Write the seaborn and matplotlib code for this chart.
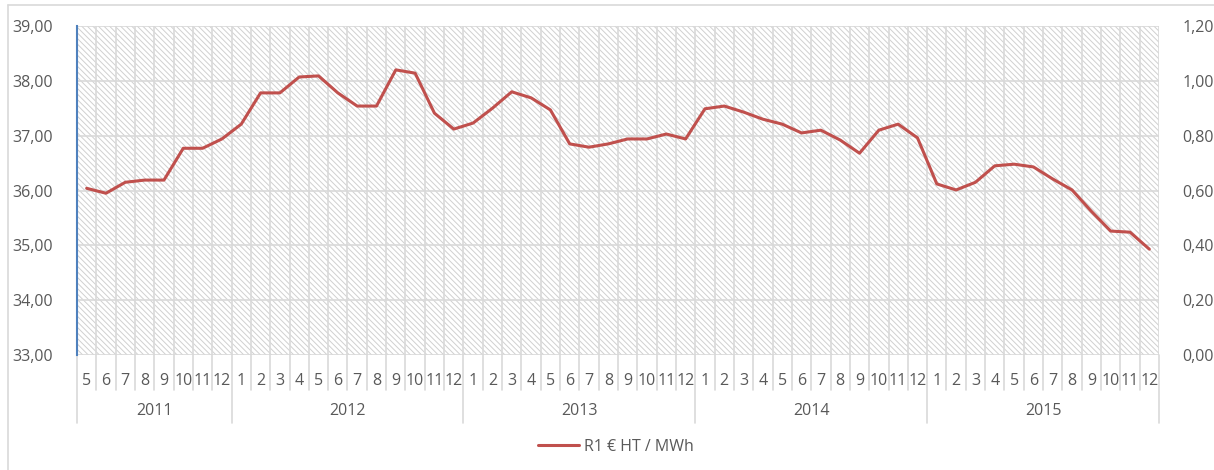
import matplotlib
matplotlib.use("Agg")
import matplotlib.pyplot as plt
import matplotlib.transforms as mtransforms
from matplotlib.lines import Line2D
from matplotlib.patches import Rectangle
import seaborn as sns
import pandas as pd
import numpy as np

# data: R1 € HT / MWh, monthly 2011-5 .. 2015-12
years = [2011, 2012, 2013, 2014, 2015]
months_per_year = [list(range(5, 13)), list(range(1, 13)), list(range(1, 13)),
                   list(range(1, 13)), list(range(1, 13))]
values = [36.04, 35.95, 36.15, 36.19, 36.19, 36.77, 36.77, 36.94,
          37.21, 37.78, 37.78, 38.07, 38.09, 37.78, 37.54, 37.54, 38.20, 38.14, 37.41, 37.12,
          37.23, 37.50, 37.80, 37.69, 37.47, 36.85, 36.79, 36.85, 36.94, 36.94, 37.03, 36.94,
          37.49, 37.54, 37.43, 37.30, 37.21, 37.05, 37.10, 36.92, 36.68, 37.10, 37.21, 36.96,
          36.12, 36.01, 36.15, 36.45, 36.48, 36.43, 36.21, 36.01, 35.62, 35.26, 35.24, 34.93]
series_name = "R1 € HT / MWh"
left_ticks = [33, 34, 35, 36, 37, 38, 39]
right_ticks = [0.0, 0.2, 0.4, 0.6, 0.8, 1.0, 1.2]

month_labels = [str(m) for ms in months_per_year for m in ms]
df = pd.DataFrame({"pos": np.arange(len(values)), "val": values})

sns.set_style("white")
plt.rcParams["font.family"] = ["Open Sans", "DejaVu Sans"]
plt.rcParams["hatch.linewidth"] = 0.7
txt = "#595959"
grid = "#d9d9d9"
red = "#c0504d"

fig = plt.figure(figsize=(12.14, 4.70), dpi=100)
ax = fig.add_axes([77 / 1214, 1 - 355 / 470, (1159 - 77) / 1214, (355 - 26) / 470])

n = len(values)
ax.set_xlim(-0.5, n - 0.5)
ax.set_ylim(33, 39)

# hatched plot background
ax.add_patch(Rectangle((-0.5, 33), n, 6, facecolor="white", edgecolor="#d0d0d0", lw=0,
                       hatch="\\" * 6, zorder=0))

for y in left_ticks:
    ax.axhline(y, color=grid, lw=1.2, zorder=1)
for b in np.arange(-0.5, n, 1.0):
    ax.axvline(b, color=grid, lw=1.2, zorder=1)

sns.lineplot(data=df, x="pos", y="val", ax=ax, color=red, lw=2.2, zorder=3,
             legend=False)

for s in ["top", "right", "bottom"]:
    ax.spines[s].set_visible(False)
ax.spines["left"].set_color("#4f81bd")
ax.spines["left"].set_linewidth(1.5)
ax.spines["left"].set_zorder(4)

ax.set_yticks(left_ticks)
ax.set_yticklabels([f"{v:.2f}".replace(".", ",") for v in left_ticks])
ax.tick_params(axis="y", length=0, pad=17, labelsize=11.5, labelcolor=txt)
ax.set_xticks(df["pos"])
ax.set_xticklabels(month_labels)
ax.tick_params(axis="x", length=0, pad=13, labelsize=11.5, labelcolor=txt)
ax.set_xlabel("")
ax.set_ylabel("")

# secondary axis
ax2 = ax.twinx()
ax2.set_ylim(0, 1.2)
ax2.set_yticks(right_ticks)
ax2.set_yticklabels([f"{v:.2f}".replace(".", ",") for v in right_ticks])
ax2.tick_params(axis="y", length=0, pad=17, labelsize=11.5, labelcolor=txt)
for s in ax2.spines.values():
    s.set_visible(False)

# multi-level category axis separators
px = 1 / ((355 - 26))
trans = mtransforms.blended_transform_factory(ax.transData, ax.transAxes)
year_bounds = [-0.5]
for ms in months_per_year:
    year_bounds.append(year_bounds[-1] + len(ms))
for b in np.arange(-0.5, n, 1.0):
    if b in year_bounds:
        ax.plot([b, b], [0, -68 * px], color=grid, lw=1.2, transform=trans, clip_on=False)
    else:
        ax.plot([b, b], [0, -35 * px], color=grid, lw=1.2, transform=trans, clip_on=False)
for yr, a, b in zip(years, year_bounds[:-1], year_bounds[1:]):
    ax.text((a + b) / 2, -56 * px, str(yr), transform=trans, ha="center", va="center",
            fontsize=11.5, color=txt)

# legend
handle = Line2D([], [], color=red, lw=2.2)
fig.legend([handle], [series_name], loc="center", bbox_to_anchor=(616 / 1214, 1 - 447 / 470),
           frameon=False, fontsize=11.5, labelcolor=txt, handlelength=2.6, handletextpad=0.3)

# outer chart border
fig.add_artist(Line2D([8 / 1214, 1], [1 - 5 / 470, 1 - 5 / 470], color="#d9d9d9", lw=1.2))
fig.add_artist(Line2D([8 / 1214, 8 / 1214], [0, 1 - 5 / 470], color="#d9d9d9", lw=1.2))

fig.savefig("out.png", dpi=100)
